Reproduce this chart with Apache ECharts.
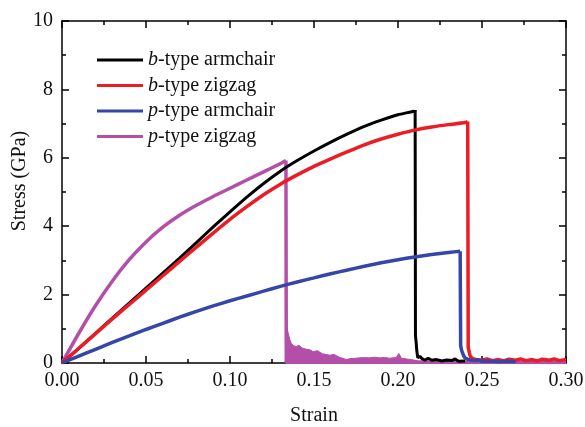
<!DOCTYPE html>
<html>
<head>
<meta charset="utf-8">
<script src="https://cdn.jsdelivr.net/npm/echarts@6/dist/echarts.min.js"></script>
<style>
html,body{margin:0;padding:0;background:#fff;}
#chart{width:585px;height:427px;}
</style>
</head>
<body>
<div id="chart"></div>
<script>
// ---- Data ----
const seriesNames = ['b-type armchair', 'b-type zigzag', 'p-type armchair', 'p-type zigzag'];

const xTicks = [0, 0.05, 0.10, 0.15, 0.20, 0.25, 0.30];
const yTicks = [0, 2, 4, 6, 8, 10];

// b-type armchair (black)
const strainBA = [0,0.01,0.02,0.03,0.04,0.05,0.06,0.07,0.08,0.09,0.10,0.11,0.12,0.13,0.14,0.15,0.16,0.17,0.18,0.19,0.20,0.21,0.2102,
  0.2104,0.2108,0.2112,0.2118,0.213,0.2145,0.216,0.218,0.22,0.223,0.226,0.229,0.232,0.234,0.236,0.24];
const stressBA = [0,0.43,0.87,1.31,1.75,2.19,2.63,3.07,3.52,3.98,4.42,4.85,5.25,5.61,5.92,6.20,6.46,6.70,6.92,7.10,7.26,7.37,7.40,
  0.80,0.60,0.35,0.15,0.20,0.12,0.08,0.14,0.08,0.10,0.06,0.09,0.07,0.12,0.05,0.06];

// b-type zigzag (red)
const strainBZ = [0,0.01,0.02,0.03,0.04,0.05,0.06,0.07,0.08,0.09,0.10,0.11,0.12,0.13,0.14,0.15,0.16,0.17,0.18,0.19,0.20,0.21,0.22,0.23,0.24,0.2415,
  0.2418,0.2425,0.243,0.244,0.246,0.25,0.253,0.256,0.26,0.263,0.266,0.27,0.273,0.276,0.28,0.283,0.286,0.29,0.293,0.296,0.30];
const stressBZ = [0,0.43,0.86,1.29,1.71,2.13,2.55,2.97,3.39,3.80,4.20,4.57,4.92,5.23,5.50,5.75,5.97,6.18,6.38,6.55,6.69,6.81,6.90,6.97,7.03,7.06,
  0.45,0.30,0.20,0.14,0.10,0.08,0.12,0.07,0.10,0.06,0.11,0.08,0.12,0.07,0.10,0.06,0.11,0.08,0.12,0.07,0.10];

// p-type armchair (blue)
const strainPA = [0,0.01,0.02,0.03,0.04,0.05,0.06,0.07,0.08,0.09,0.10,0.11,0.12,0.13,0.14,0.15,0.16,0.17,0.18,0.19,0.20,0.21,0.22,0.23,0.237,
  0.2373,0.238,0.239,0.240,0.242,0.245,0.248,0.25,0.255,0.26,0.265,0.27];
const stressPA = [0,0.20,0.40,0.60,0.79,0.98,1.16,1.34,1.51,1.67,1.82,1.96,2.10,2.24,2.37,2.49,2.61,2.72,2.83,2.93,3.02,3.10,3.17,3.23,3.27,
  0.50,0.35,0.22,0.14,0.10,0.07,0.09,0.05,0.06,0.04,0.05,0.04];

// p-type zigzag (magenta)
const strainPZ = [0,0.01,0.02,0.03,0.04,0.05,0.06,0.07,0.08,0.09,0.10,0.11,0.12,0.13,0.1333,0.1335,0.30];
const stressPZ = [0,0.87,1.68,2.40,3.02,3.54,3.97,4.32,4.61,4.87,5.11,5.35,5.59,5.83,5.92,0.02,0.02];

// p-type zigzag post-failure oscillation envelope (filled)
const strainPZTail = [0.1334,0.1337,0.1345,0.1355,0.1365,0.138,0.1395,0.141,0.143,0.1455,0.148,0.1494,0.152,0.155,0.1593,0.162,0.165,0.1692,0.172,0.175,0.179,0.183,0.186,0.189,0.192,0.195,0.199,0.2005,0.202,0.205,0.209,0.212,0.215,0.22,0.23,0.24,0.25,0.26,0.27,0.28,0.29,0.30];
const stressPZTail = [1.20,1.21,0.90,0.70,0.57,0.50,0.48,0.52,0.44,0.40,0.38,0.33,0.36,0.27,0.23,0.25,0.17,0.10,0.13,0.14,0.16,0.15,0.17,0.15,0.16,0.14,0.16,0.28,0.14,0.12,0.09,0.06,0.05,0.05,0.04,0.04,0.03,0.03,0.03,0.03,0.03,0.03];

// ---- Build ----
const zip = (xs, ys) => xs.map((x, i) => [x, ys[i]]);
const serif = 'Liberation Serif, Times New Roman, serif';
const colBlack = '#000000', colRed = '#ec1c24', colBlue = '#3546a8', colPink = '#b34fa9';

// split a curve at its peak: smooth loading branch + sharp failure/tail branch
function curveSeries(name, xs, ys, color, width, z) {
  const pts = zip(xs, ys);
  let pk = 0;
  ys.forEach((v, i) => { if (v > ys[pk]) pk = i; });
  const base = {name: name, type: 'line', showSymbol: false, symbol: 'none', z: z,
    lineStyle: {color: color, width: width}, itemStyle: {color: color}};
  return [
    Object.assign({}, base, {data: pts.slice(0, pk + 1), smooth: 0.2}),
    Object.assign({}, base, {data: pts.slice(pk)})
  ];
}

const chart = echarts.init(document.getElementById('chart'), null, {renderer: 'canvas'});

const axisCommon = {
  type: 'value',
  axisLine: {show: true, onZero: false, lineStyle: {color: '#000', width: 1.5}},
  axisTick: {show: true, inside: true, length: 7, lineStyle: {color: '#000', width: 1.5}},
  minorTick: {show: true, splitNumber: 2, length: 4, lineStyle: {color: '#000', width: 1.5}},
  splitLine: {show: false},
  minorSplitLine: {show: false}
};

const option = {
  animation: false,
  backgroundColor: '#fff',
  grid: {left: 62, right: 19, top: 21, bottom: 64, containLabel: false, outerBoundsMode: 'none'},
  legend: {
    data: seriesNames,
    orient: 'vertical',
    left: 97,
    top: 49,
    padding: 0,
    icon: 'rect',
    itemWidth: 46,
    itemHeight: 3,
    itemGap: 3.5,
    textStyle: {
      fontFamily: serif, fontSize: 20, color: '#111', lineHeight: 22,
      rich: {i: {fontStyle: 'italic', fontFamily: serif, fontSize: 20, color: '#111', lineHeight: 22}}
    },
    formatter: n => n.replace(/^(b|p)-/, '{i|$1}-')
  },
  xAxis: [
    Object.assign({}, axisCommon, {
      position: 'bottom', min: xTicks[0], max: xTicks[xTicks.length - 1], interval: xTicks[1] - xTicks[0],
      name: 'Strain', nameLocation: 'middle', nameGap: 43, nameMoveOverlap: false,
      nameTextStyle: {fontFamily: serif, fontSize: 20, color: '#111'},
      axisLabel: {show: true, margin: 8, fontFamily: serif, fontSize: 20, color: '#111', formatter: v => v.toFixed(2)}
    }),
    Object.assign({}, axisCommon, {
      position: 'top', min: xTicks[0], max: xTicks[xTicks.length - 1], interval: xTicks[1] - xTicks[0],
      axisLabel: {show: false}
    })
  ],
  yAxis: [
    Object.assign({}, axisCommon, {
      position: 'left', min: yTicks[0], max: yTicks[yTicks.length - 1], interval: yTicks[1] - yTicks[0],
      name: 'Stress (GPa)', nameLocation: 'middle', nameGap: 32, nameMoveOverlap: false,
      nameTextStyle: {fontFamily: serif, fontSize: 20, color: '#111', padding: [0, 0, 0, 22]},
      axisLabel: {show: true, margin: 9, fontFamily: serif, fontSize: 20, color: '#111'}
    }),
    Object.assign({}, axisCommon, {
      position: 'right', min: yTicks[0], max: yTicks[yTicks.length - 1], interval: yTicks[1] - yTicks[0],
      axisLabel: {show: false}
    })
  ],
  series: [
    {
      name: seriesNames[3] + ' tail', type: 'line', data: zip(strainPZTail, stressPZTail),
      showSymbol: false, symbol: 'none', z: 2,
      lineStyle: {color: colPink, width: 1}, itemStyle: {color: colPink},
      areaStyle: {color: colPink, opacity: 1, origin: 'start'}
    }
  ].concat(
    curveSeries(seriesNames[3], strainPZ, stressPZ, colPink, 3.5, 3),
    curveSeries(seriesNames[0], strainBA, stressBA, colBlack, 3, 4),
    curveSeries(seriesNames[1], strainBZ, stressBZ, colRed, 3.5, 5),
    curveSeries(seriesNames[2], strainPA, stressPA, colBlue, 3.5, 6)
  )
};
chart.setOption(option);
</script>
</body>
</html>
